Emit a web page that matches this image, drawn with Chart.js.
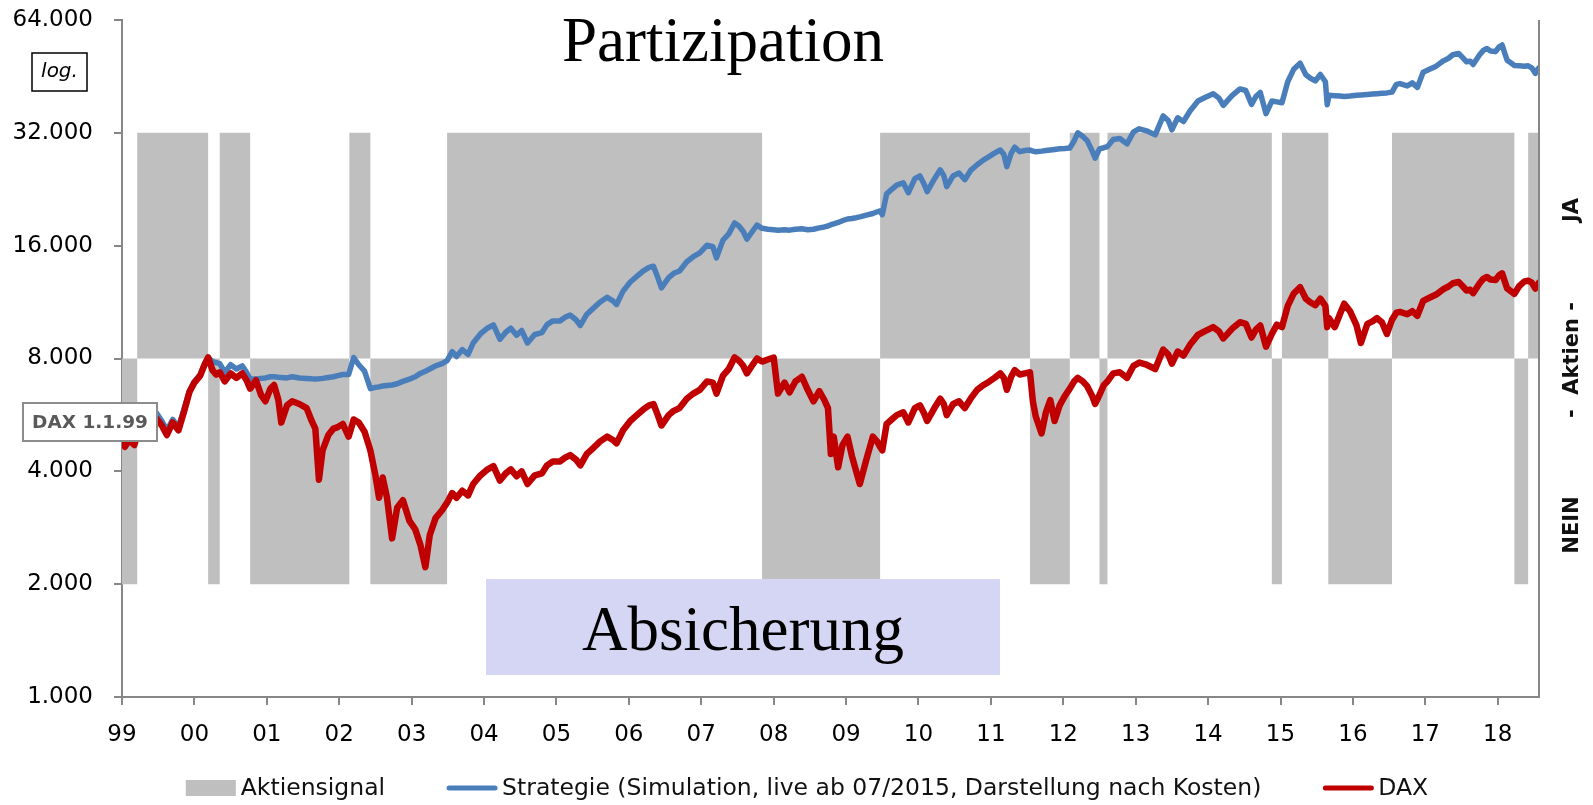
<!DOCTYPE html>
<html>
<head>
<meta charset="utf-8">
<script src="https://cdn.jsdelivr.net/npm/chart.js@4.4.1/dist/chart.umd.min.js"></script>
<style>
html,body{margin:0;padding:0;background:#fff;}
canvas{display:block;}
</style>
</head>
<body>
<canvas id="c" width="1593" height="805"></canvas>
<script>
// ---------- data ----------
const seriesNames = ['Aktiensignal', 'Strategie (Simulation, live ab 07/2015, Darstellung nach Kosten)', 'DAX'];
const xTickYears = [1999,2000,2001,2002,2003,2004,2005,2006,2007,2008,2009,2010,2011,2012,2013,2014,2015,2016,2017,2018];
const xTickLabels = ['99','00','01','02','03','04','05','06','07','08','09','10','11','12','13','14','15','16','17','18'];
const yTickValues = [1000,2000,4000,8000,16000,32000,64000];
const yTickLabels = ['1.000','2.000','4.000','8.000','16.000','32.000','64.000'];

// signal: start of each period and its state (JA = invested, NEIN = hedged)
const signalStart = [1999.00,1999.21,2000.19,2000.35,2000.77,2002.14,2002.43,2003.49,2007.84,2009.47,2011.54,2012.09,2012.50,2012.61,2014.88,2015.02,2015.66,2016.54,2018.23,2018.42];
const signalState = ['NEIN','JA','NEIN','JA','NEIN','JA','NEIN','JA','NEIN','JA','NEIN','JA','NEIN','JA','NEIN','JA','NEIN','JA','NEIN','JA'];
const signalEnd = 2018.57;
const bandLevel = {JA: 32000, NEIN: 2000, base: 8000};

const dates = [
1999.00,1999.04,1999.10,1999.17,1999.25,1999.33,1999.40,1999.47,1999.55,1999.62,1999.70,1999.78,1999.86,1999.93,
2000.00,2000.08,2000.14,2000.19,2000.25,2000.30,2000.35,2000.42,2000.50,2000.58,2000.66,2000.72,2000.77,2000.85,2000.92,2000.98,
2001.05,2001.10,2001.16,2001.20,2001.28,2001.35,2001.45,2001.55,2001.62,2001.67,2001.72,2001.77,2001.85,2001.92,2001.98,
2002.05,2002.13,2002.17,2002.20,2002.27,2002.35,2002.43,2002.50,2002.55,2002.60,2002.66,2002.73,2002.80,2002.88,2002.97,
2003.05,2003.12,2003.19,2003.25,2003.33,2003.42,2003.49,2003.56,2003.62,2003.70,2003.78,2003.85,2003.95,
2004.05,2004.13,2004.22,2004.30,2004.37,2004.45,2004.52,2004.60,2004.70,2004.80,2004.87,2004.95,
2005.05,2005.12,2005.19,2005.27,2005.33,2005.42,2005.50,2005.60,2005.70,2005.78,2005.83,2005.92,
2006.02,2006.11,2006.20,2006.28,2006.34,2006.40,2006.45,2006.55,2006.62,2006.70,2006.80,2006.89,2006.98,
2007.08,2007.16,2007.21,2007.30,2007.38,2007.46,2007.52,2007.58,2007.63,2007.70,2007.77,2007.84,2007.92,
2008.00,2008.06,2008.15,2008.22,2008.30,2008.39,2008.47,2008.55,2008.63,2008.70,2008.75,2008.79,2008.83,2008.89,2008.95,
2009.02,2009.08,2009.14,2009.19,2009.28,2009.37,2009.43,2009.47,2009.50,2009.56,2009.63,2009.70,2009.79,2009.86,2009.95,
2010.02,2010.08,2010.12,2010.22,2010.30,2010.35,2010.39,2010.48,2010.56,2010.64,2010.72,2010.81,2010.90,2010.98,
2011.05,2011.13,2011.18,2011.22,2011.28,2011.33,2011.40,2011.47,2011.54,2011.58,2011.62,2011.70,2011.76,2011.82,2011.88,2011.95,
2012.02,2012.09,2012.15,2012.20,2012.27,2012.33,2012.40,2012.44,2012.50,2012.56,2012.61,2012.69,2012.78,2012.88,2012.97,
2013.05,2013.15,2013.27,2013.38,2013.45,2013.50,2013.58,2013.66,2013.75,2013.86,2013.95,
2014.07,2014.15,2014.21,2014.33,2014.44,2014.52,2014.60,2014.66,2014.72,2014.80,2014.88,2014.95,
2015.02,2015.10,2015.18,2015.27,2015.35,2015.41,2015.48,2015.55,2015.62,2015.645,2015.67,2015.75,2015.82,2015.88,2015.96,
2016.05,2016.11,2016.20,2016.27,2016.33,2016.40,2016.47,2016.54,2016.60,2016.65,2016.75,2016.82,2016.89,2016.97,
2017.05,2017.15,2017.25,2017.32,2017.38,2017.46,2017.52,2017.57,2017.62,2017.66,2017.75,2017.80,2017.85,2017.90,2017.97,
2018.02,2018.06,2018.10,2018.13,2018.18,2018.23,2018.30,2018.37,2018.42,2018.47,2018.52,2018.55,2018.57
];
const dax = [
4900,4650,4850,4700,5300,5250,5450,5550,5300,5000,5400,5150,5800,6500,
6900,7200,7700,8050,7450,7250,7350,6950,7300,7100,7300,7000,6650,7000,6400,6150,
6650,6800,6200,5400,6000,6150,6050,5900,5450,5200,3800,4550,5000,5200,5250,
5350,4950,5250,5500,5400,5100,4550,3900,3400,3850,3400,2650,3200,3350,2950,
2800,2550,2220,2700,3000,3150,3300,3500,3400,3550,3450,3700,3900,
4050,4130,3780,3950,4050,3880,4000,3700,3900,3950,4150,4250,
4250,4350,4420,4300,4150,4450,4600,4800,4950,4850,4750,5150,
5450,5650,5850,6000,6050,5650,5300,5650,5800,5900,6250,6450,6600,
6950,6900,6450,7200,7500,8050,7900,7650,7300,7650,8000,7850,7950,
8050,6450,6900,6500,6950,7150,6600,6150,6550,6200,5900,4450,4950,4100,4700,
4950,4400,4000,3700,4300,4950,4800,4650,4550,5350,5500,5650,5750,5400,5900,
6000,5700,5450,5900,6250,6050,5650,6050,6150,5900,6250,6600,6800,6950,
7100,7300,7100,6600,7150,7450,7250,7300,7350,6150,5600,5050,5750,6200,5450,6000,
6350,6650,6950,7100,6950,6750,6350,6050,6400,6800,6950,7300,7350,7100,7650,
7800,7700,7500,8450,8200,7750,8350,8150,8700,9250,9450,
9700,9450,9050,9600,10000,9900,9100,9550,9800,8600,9300,9850,
9700,11050,11900,12400,11550,11300,11100,11550,11050,9700,10250,9700,10500,11200,10700,
9800,8800,9900,10050,10250,10000,9300,10150,10600,10650,10500,10700,10400,11400,
11600,11850,12250,12450,12700,12800,12450,12150,12200,11950,12700,13050,13200,13000,12950,
13350,13500,12800,12300,12100,11900,12500,12850,12900,12750,12300,12600,12750
];
const strategie = [
4900,4650,4850,4750,5450,5450,5650,5750,5450,5150,5500,5250,5900,6550,
6950,7250,7750,8050,7850,7800,7750,7350,7700,7500,7650,7350,7050,7050,7080,7100,
7150,7150,7130,7120,7100,7150,7100,7080,7060,7050,7060,7080,7120,7150,7200,
7250,7250,7700,8050,7700,7400,6650,6700,6720,6760,6780,6800,6850,6950,7050,
7150,7300,7400,7500,7650,7750,7900,8350,8100,8450,8200,8800,9300,
9650,9830,9000,9400,9640,9230,9500,8800,9270,9380,9850,10080,
10080,10300,10450,10150,9800,10500,10850,11300,11650,11400,11150,12100,
12800,13250,13700,14000,14100,13150,12350,13150,13500,13700,14500,14950,15300,
16050,15900,14850,16550,17200,18400,18050,17450,16650,17400,18150,17800,17700,
17650,17600,17650,17600,17700,17750,17650,17700,17850,17950,18050,18200,18300,18450,18650,
18850,18900,19000,19100,19300,19500,19700,19800,19350,22000,22600,23200,23550,22150,24150,
24550,23300,22300,24100,25500,24600,23000,24600,25000,24000,25400,26300,27100,27700,
28250,28800,28000,26000,28200,29300,28500,28700,28800,28600,28500,28600,28700,28800,28900,29000,
29050,29150,30450,32000,31300,30500,28600,27400,29000,29200,29400,30700,30900,29900,32200,
32800,32400,31600,35500,34500,32600,35100,34300,36600,38900,39700,
40700,39600,37900,40200,41900,41500,38100,40000,41000,36000,38900,38700,
38500,43800,47200,49100,45700,44800,44000,45800,43800,38000,40300,40200,40100,40000,40100,
40300,40400,40500,40600,40700,40800,40900,41100,43100,43300,42700,43500,42300,46400,
47200,48200,49800,50600,51700,52100,50700,49500,49700,48700,51700,53100,53700,52900,52700,
54300,54900,52000,50000,49200,48400,48300,48200,48300,47700,46100,47200,47700
];

// ---------- build datasets from the arrays ----------
const bandData = [];
signalStart.forEach((s, i) => {
  const e = i < signalStart.length - 1 ? signalStart[i + 1] : signalEnd;
  const v = bandLevel[signalState[i]];
  bandData.push({x: s, y: v}, {x: e, y: v});
});
const stratData = dates.map((d, i) => ({x: d, y: strategie[i]}));
const daxData = dates.map((d, i) => ({x: d, y: dax[i]}));

const GRAY = '#bfbfbf', BLUE = '#4a7ebb', RED = '#c00000', AXIS = '#878787';
Chart.defaults.font.family = '"DejaVu Sans", sans-serif';
Chart.defaults.color = '#000';

// ---------- annotations, x tick labels & legend plugin ----------
const deco = {
  id: 'deco',
  afterDraw(chart) {
    const {ctx, chartArea: a, scales} = chart;
    ctx.save();
    // x tick labels placed by the x scale
    ctx.fillStyle = '#000'; ctx.font = '23px "DejaVu Sans", sans-serif';
    ctx.textAlign = 'center'; ctx.textBaseline = 'alphabetic';
    xTickYears.forEach((v, i) => ctx.fillText(xTickLabels[i], scales.x.getPixelForValue(v), 741));
    ctx.restore();
  },
  afterDatasetsDraw(chart) {
    const {ctx, chartArea: a} = chart;
    ctx.save();
    // right frame line
    ctx.strokeStyle = AXIS; ctx.lineWidth = 2;
    ctx.beginPath(); ctx.moveTo(a.right, a.top); ctx.lineTo(a.right, a.bottom); ctx.stroke();

    // Partizipation
    ctx.fillStyle = '#000';
    ctx.font = '63px "Liberation Serif", serif';
    ctx.textAlign = 'center'; ctx.textBaseline = 'alphabetic';
    ctx.fillText('Partizipation', 723, 61);

    // Absicherung box
    ctx.fillStyle = '#d5d6f3';
    ctx.fillRect(486, 579, 514, 96);
    ctx.fillStyle = '#000';
    ctx.fillText('Absicherung', 743, 650);

    // log. box
    ctx.fillStyle = '#fff'; ctx.fillRect(32, 53, 55, 38);
    ctx.strokeStyle = '#000'; ctx.lineWidth = 1.5; ctx.strokeRect(32, 53, 55, 38);
    ctx.fillStyle = '#000'; ctx.font = 'italic 20px "DejaVu Sans", sans-serif';
    ctx.textBaseline = 'middle';
    ctx.fillText('log.', 59.5, 72);

    // DAX 1.1.99 box
    ctx.fillStyle = '#fff'; ctx.fillRect(23, 403, 134, 38);
    ctx.strokeStyle = '#8c8c8c'; ctx.lineWidth = 2; ctx.strokeRect(23, 403, 134, 38);
    ctx.fillStyle = '#595959'; ctx.font = 'bold 18.5px "DejaVu Sans", sans-serif';
    ctx.fillText('DAX 1.1.99', 90, 423);

    // right side label
    ctx.fillStyle = '#111'; ctx.font = 'bold 21px "DejaVu Sans", sans-serif';
    [['NEIN', 525], ['-  Aktien -', 360], ['JA', 210]].forEach(([t, cy]) => {
      ctx.save(); ctx.translate(1573, cy); ctx.rotate(-Math.PI / 2);
      ctx.fillText(t, 0, 0); ctx.restore();
    });

    // legend (from datasets)
    const ds = chart.data.datasets;
    ctx.font = '23.5px "DejaVu Sans", sans-serif';
    ctx.textAlign = 'left'; ctx.textBaseline = 'middle';
    const symW = 50, gap = 5, itemGap = 62, cy = 788;
    const widths = ds.map(d => symW + gap + ctx.measureText(d.label).width);
    const total = widths.reduce((s, w) => s + w, 0) + itemGap * (ds.length - 1);
    let x = 807 - total / 2;
    ds.forEach((d, i) => {
      if (d.fill) {
        ctx.fillStyle = d.backgroundColor; ctx.fillRect(x, cy - 8, symW, 16);
      } else {
        ctx.strokeStyle = d.borderColor; ctx.lineWidth = 5; ctx.lineCap = 'round';
        ctx.beginPath(); ctx.moveTo(x + 2, cy); ctx.lineTo(x + symW - 2, cy); ctx.stroke();
      }
      ctx.fillStyle = '#111';
      ctx.fillText(d.label, x + symW + gap, cy + 1);
      x += widths[i] + itemGap;
    });
    ctx.restore();
  }
};

new Chart(document.getElementById('c'), {
  type: 'line',
  data: {
    datasets: [
      {label: seriesNames[0], data: bandData, borderWidth: 0, pointRadius: 0,
       backgroundColor: GRAY, borderColor: 'rgba(0,0,0,0)', fill: {value: bandLevel.base}, order: 10},
      {label: seriesNames[1], data: stratData, borderColor: BLUE, borderWidth: 5.5, pointRadius: 0,
       fill: false, tension: 0, borderJoinStyle: 'round', borderCapStyle: 'round', order: 2},
      {label: seriesNames[2], data: daxData, borderColor: RED, borderWidth: 6.5, pointRadius: 0,
       fill: false, tension: 0, borderJoinStyle: 'round', borderCapStyle: 'round', order: 1}
    ]
  },
  options: {
    responsive: false,
    animation: false,
    devicePixelRatio: 1,
    layout: {padding: {top: 20, right: 54, bottom: 58, left: 0}},
    plugins: {legend: {display: false}, tooltip: {enabled: false}},
    scales: {
      x: {
        type: 'linear', min: 1999, max: signalEnd,
        afterBuildTicks: s => { s.ticks = xTickYears.map(v => ({value: v})); },
        afterFit: s => { s.height = 50; s.paddingLeft = 0; s.paddingRight = 0; },
        ticks: {display: false, autoSkip: false, maxRotation: 0},
        grid: {display: true, drawOnChartArea: false, drawTicks: true, tickLength: 8, color: AXIS, lineWidth: 2},
        border: {display: true, color: AXIS, width: 2}
      },
      y: {
        type: 'logarithmic', min: 1000, max: 64000,
        afterBuildTicks: s => { s.ticks = yTickValues.map(v => ({value: v})); },
        afterFit: s => { s.width = 122; s.paddingTop = 0; s.paddingBottom = 0; },
        ticks: {padding: 21, font: {size: 23}, color: '#000', callback: (v, i) => yTickLabels[i]},
        grid: {display: true, drawOnChartArea: false, drawTicks: true, tickLength: 8, color: AXIS, lineWidth: 2},
        border: {display: true, color: AXIS, width: 2}
      }
    }
  },
  plugins: [deco]
});
</script>
</body>
</html>
